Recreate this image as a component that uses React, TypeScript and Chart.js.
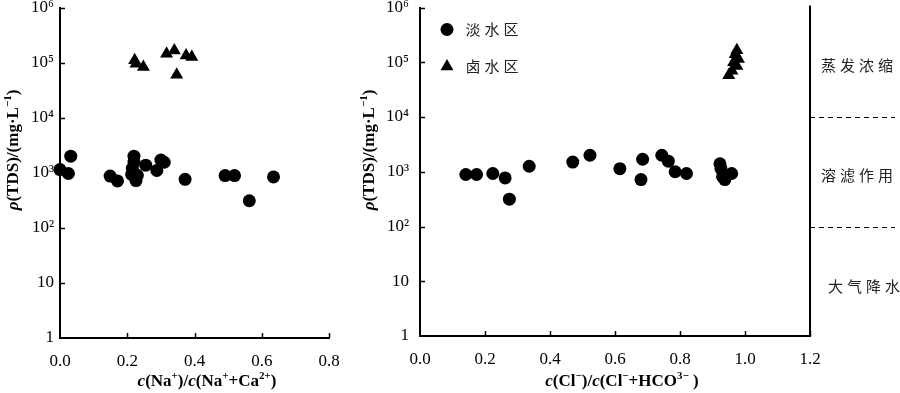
import React, { useEffect, useRef } from "react";
import { Chart, registerables } from "chart.js";

Chart.register(...registerables);

// ---------- data ----------
const yTickValues = [1, 10, 100, 1000, 10000, 100000, 1000000];
const yTickLabels = ["1", "10", "10²", "10³", "10⁴", "10⁵", "10⁶"];

const leftXTicks = [0, 0.2, 0.4, 0.6, 0.8];
const rightXTicks = [0, 0.2, 0.4, 0.6, 0.8, 1.0, 1.2];

// Left panel: c(Na+)/c(Na+ + Ca2+)
const leftFreshX = [0.0, 0.025, 0.032, 0.149, 0.171, 0.22, 0.22, 0.215, 0.213, 0.23, 0.226, 0.255, 0.288, 0.30, 0.31, 0.372, 0.491, 0.519, 0.635, 0.563];
const leftFreshY = [1140, 970, 2000, 870, 710, 2000, 1560, 1200, 930, 900, 720, 1370, 1100, 1700, 1550, 760, 890, 890, 840, 310];
const leftBrineX = [0.222, 0.226, 0.248, 0.317, 0.34, 0.375, 0.392, 0.347];
const leftBrineY = [110000, 95000, 83000, 145000, 165000, 135000, 126000, 60000];

// Right panel: c(Cl-)/c(Cl- + HCO3-)
const rightFreshX = [0.141, 0.174, 0.224, 0.262, 0.275, 0.336, 0.47, 0.523, 0.615, 0.685, 0.68, 0.744, 0.764, 0.785, 0.82, 0.923, 0.926, 0.931, 0.959, 0.938];
const rightFreshY = [890, 890, 930, 770, 315, 1260, 1500, 2000, 1140, 1690, 720, 2000, 1560, 1000, 930, 1400, 1140, 810, 930, 720];
const rightBrineX = [0.975, 0.97, 0.98, 0.965, 0.975, 0.96, 0.95];
const rightBrineY = [165000, 140000, 115000, 100000, 85000, 70000, 58000];

const legendLabels = ["淡水区", "卤水区"];
const zoneLabels = ["蒸发浓缩", "溶滤作用", "大气降水"];
const zoneBoundaries = [10000, 100];

type Run = { t: string; it?: boolean; sup?: boolean };

const leftXTitle: Run[] = [
  { t: "c", it: true }, { t: "(Na" }, { t: "+", sup: true }, { t: ")/" },
  { t: "c", it: true }, { t: "(Na" }, { t: "+", sup: true }, { t: "+Ca" }, { t: "2+", sup: true }, { t: ")" },
];
const rightXTitle: Run[] = [
  { t: "c", it: true }, { t: "(Cl" }, { t: "−", sup: true }, { t: ")/" },
  { t: "c", it: true }, { t: "(Cl" }, { t: "−", sup: true }, { t: "+HCO" }, { t: "3−", sup: true }, { t: " )" },
];
const yTitle: Run[] = [
  { t: "ρ", it: true }, { t: "(TDS)/(mg·L" }, { t: "−1", sup: true }, { t: ")" },
];

const SERIF = "'Liberation Serif', 'Times New Roman', serif";
const CJK = "'Noto Sans CJK SC', sans-serif";

function runFont(r: Run) {
  const size = r.sup ? 11 : 17;
  return `${r.it ? "italic " : ""}bold ${size}px ${SERIF}`;
}

function drawRuns(ctx: CanvasRenderingContext2D, runs: Run[], x: number, y: number) {
  ctx.textBaseline = "middle";
  ctx.textAlign = "left";
  const widths = runs.map((r) => {
    ctx.font = runFont(r);
    return ctx.measureText(r.t).width;
  });
  const total = widths.reduce((a, b) => a + b, 0);
  let cx = x - total / 2;
  runs.forEach((r, i) => {
    ctx.font = runFont(r);
    ctx.fillText(r.t, cx, y + (r.sup ? -6 : 0));
    cx += widths[i];
  });
}

function drawSpaced(ctx: CanvasRenderingContext2D, text: string, x: number, y: number, spacing: number) {
  ctx.textBaseline = "middle";
  ctx.textAlign = "left";
  const chars = Array.from(text);
  const widths = chars.map((c) => ctx.measureText(c).width);
  const total = widths.reduce((a, b) => a + b, 0) + spacing * (chars.length - 1);
  let cx = x - total / 2;
  chars.forEach((c, i) => {
    ctx.fillText(c, cx, y);
    cx += widths[i] + spacing;
  });
}

type PanelCfg = {
  side: "left" | "right";
  freshX: number[];
  freshY: number[];
  brineX: number[];
  brineY: number[];
  xMax: number;
  xTicks: number[];
  xTitle: Run[];
  canvasWidth: number;
  padRight: number;
  xAxisHeight: number;
  xTitleX: number;
  yTitleX: number;
  yTickPad: number;
};

function Panel({ cfg, left }: { cfg: PanelCfg; left: number }) {
  const ref = useRef<HTMLCanvasElement>(null);
  useEffect(() => {
    const canvas = ref.current!;
    const deco = {
      id: "deco" + cfg.side,
      afterDraw(chart: any) {
        const ctx: CanvasRenderingContext2D = chart.ctx;
        const { left: L, right: R, top: T, bottom: B } = chart.chartArea;
        const xs = chart.scales.x;
        const ys = chart.scales.y;
        ctx.save();
        ctx.strokeStyle = "#000";
        ctx.fillStyle = "#000";
        ctx.lineWidth = 1.5;
        // inward tick marks
        yTickValues.forEach((v) => {
          const py = Math.round(ys.getPixelForValue(v)) + 0.5;
          if (v === 1) return;
          ctx.beginPath();
          ctx.moveTo(L, py);
          ctx.lineTo(L + 5, py);
          ctx.stroke();
        });
        cfg.xTicks.forEach((v) => {
          if (v === 0) return;
          const px = Math.round(xs.getPixelForValue(v)) + 0.5;
          ctx.beginPath();
          ctx.moveTo(px, B);
          ctx.lineTo(px, B - 5);
          ctx.stroke();
        });
        if (cfg.side === "right") {
          // right frame line
          ctx.lineWidth = 2;
          ctx.beginPath();
          ctx.moveTo(R, T - 2);
          ctx.lineTo(R, B);
          ctx.stroke();
          // zone boundaries
          ctx.lineWidth = 1;
          ctx.setLineDash([5, 4]);
          zoneBoundaries.forEach((v) => {
            const py = Math.round(ys.getPixelForValue(v)) + 0.5;
            ctx.beginPath();
            ctx.moveTo(R, py);
            ctx.lineTo(R + 85, py);
            ctx.stroke();
          });
          ctx.setLineDash([]);
          // zone labels
          ctx.font = `15px ${CJK}`;
          ctx.fillStyle = "#222";
          const zoneY = [
            (ys.getPixelForValue(1e6) + ys.getPixelForValue(1e4)) / 2 + 3,
            (ys.getPixelForValue(1e4) + ys.getPixelForValue(1e2)) / 2 + 4,
            ys.getPixelForValue(10) + 5,
          ];
          const zoneX = [R + 47, R + 47, R + 54];
          zoneLabels.forEach((t, i) => drawSpaced(ctx, t, zoneX[i], zoneY[i], 4));
          // legend
          ctx.fillStyle = "#000";
          const lx = L + 27;
          const ly1 = T + 22;
          const ly2 = T + 59;
          ctx.beginPath();
          ctx.arc(lx, ly1, 6.5, 0, Math.PI * 2);
          ctx.fill();
          ctx.beginPath();
          const r = 7.5;
          ctx.moveTo(lx, ly2 - r);
          ctx.lineTo(lx + r * Math.sin((2 * Math.PI) / 3), ly2 - r * Math.cos((2 * Math.PI) / 3));
          ctx.lineTo(lx - r * Math.sin((2 * Math.PI) / 3), ly2 - r * Math.cos((2 * Math.PI) / 3));
          ctx.closePath();
          ctx.fill();
          ctx.font = `15px ${CJK}`;
          ctx.fillStyle = "#222";
          drawSpaced(ctx, legendLabels[0], lx + 45, ly1, 4);
          drawSpaced(ctx, legendLabels[1], lx + 45, ly2, 4);
        }
        // titles
        ctx.fillStyle = "#000";
        drawRuns(ctx, cfg.xTitle, cfg.xTitleX, 382);
        ctx.save();
        ctx.translate(cfg.yTitleX, 150);
        ctx.rotate(-Math.PI / 2);
        drawRuns(ctx, yTitle, 0, 0);
        ctx.restore();
        ctx.restore();
      },
    };

    const chart = new Chart(canvas, {
      type: "scatter",
      data: {
        datasets: [
          {
            label: legendLabels[0],
            data: cfg.freshX.map((x, i) => ({ x, y: cfg.freshY[i] })),
            pointStyle: "circle",
            pointRadius: 6.5,
            backgroundColor: "#000",
            borderColor: "#000",
            borderWidth: 0,
            clip: false,
          } as any,
          {
            label: legendLabels[1],
            data: cfg.brineX.map((x, i) => ({ x, y: cfg.brineY[i] })),
            pointStyle: "triangle",
            pointRadius: 7.5,
            backgroundColor: "#000",
            borderColor: "#000",
            borderWidth: 0,
            clip: false,
          } as any,
        ],
      },
      options: {
        responsive: false,
        animation: false,
        layout: { padding: { left: 0, top: 5, right: cfg.padRight, bottom: 0 } },
        plugins: { legend: { display: false }, tooltip: { enabled: false } },
        scales: {
          x: {
            type: "linear",
            min: 0,
            max: cfg.xMax,
            afterBuildTicks: (s: any) => {
              s.ticks = cfg.xTicks.map((v) => ({ value: v }));
            },
            afterFit: (s: any) => {
              s.height = cfg.xAxisHeight;
              s.paddingLeft = 0;
              s.paddingRight = 0;
            },
            ticks: {
              color: "#000",
              font: { size: 17, family: SERIF },
              padding: 13,
              maxRotation: 0,
              autoSkip: false,
              callback: (v: any) => Number(v).toFixed(1),
            },
            grid: { display: false, drawTicks: false },
            border: { display: true, color: "#000", width: 2 },
          },
          y: {
            type: "logarithmic",
            min: 1,
            max: 1000000,
            afterBuildTicks: (s: any) => {
              s.ticks = yTickValues.map((v) => ({ value: v }));
            },
            afterFit: (s: any) => {
              s.width = 60;
              s.paddingTop = 0;
              s.paddingBottom = 0;
            },
            ticks: {
              color: "#000",
              font: { size: 17, family: SERIF },
              padding: cfg.yTickPad,
              autoSkip: false,
              callback: (v: any) => {
                const i = yTickValues.indexOf(Number(v));
                return i >= 0 ? yTickLabels[i] : null;
              },
            },
            grid: { display: false, drawTicks: false },
            border: { display: true, color: "#000", width: 2 },
          },
        },
      },
      plugins: [deco],
    } as any);
    return () => chart.destroy();
  }, [cfg]);
  return (
    <canvas
      ref={ref}
      width={cfg.canvasWidth}
      height={393}
      style={{ position: "absolute", left, top: 0, width: cfg.canvasWidth, height: 393 }}
    />
  );
}

const leftCfg: PanelCfg = {
  side: "left",
  freshX: leftFreshX,
  freshY: leftFreshY,
  brineX: leftBrineX,
  brineY: leftBrineY,
  xMax: 0.8,
  xTicks: leftXTicks,
  xTitle: leftXTitle,
  canvasWidth: 360,
  padRight: 31,
  xAxisHeight: 55,
  xTitleX: 207,
  yTitleX: 14,
  yTickPad: 6,
};

const rightCfg: PanelCfg = {
  side: "right",
  freshX: rightFreshX,
  freshY: rightFreshY,
  brineX: rightBrineX,
  brineY: rightBrineY,
  xMax: 1.2,
  xTicks: rightXTicks,
  xTitle: rightXTitle,
  canvasWidth: 540,
  padRight: 90,
  xAxisHeight: 57,
  xTitleX: 262,
  yTitleX: 10,
  yTickPad: 11,
};

export default function App() {
  return (
    <div style={{ position: "absolute", left: 0, top: 0, width: 900, height: 393, background: "#fff" }}>
      <Panel cfg={leftCfg} left={0} />
      <Panel cfg={rightCfg} left={360} />
    </div>
  );
}
